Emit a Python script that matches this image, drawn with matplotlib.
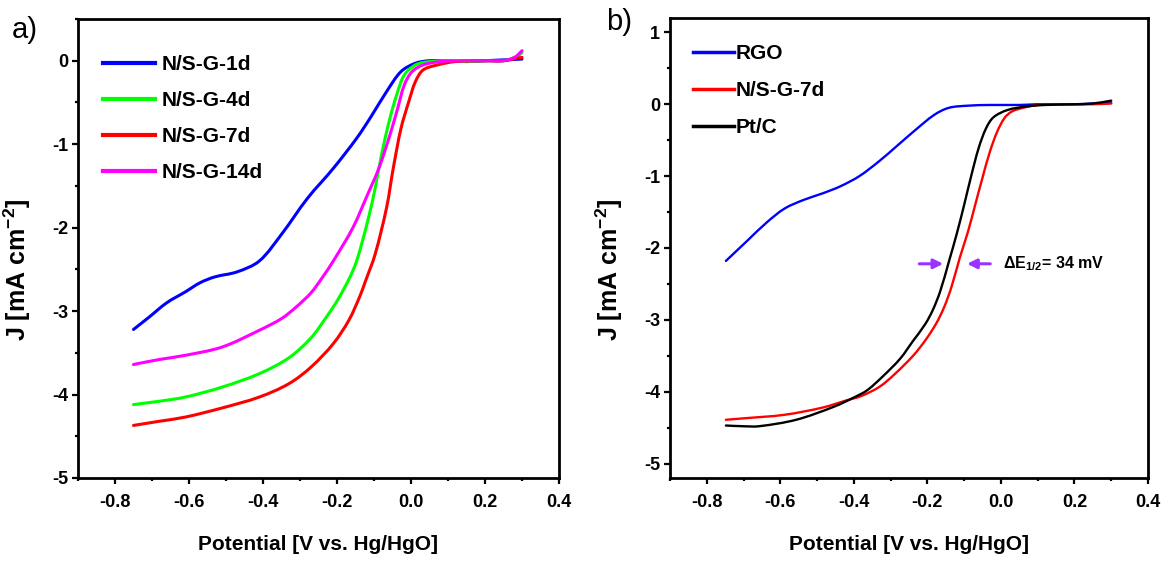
import matplotlib
matplotlib.use("Agg")
import numpy as np
import matplotlib.pyplot as plt
from matplotlib.ticker import MultipleLocator
from matplotlib.path import Path
from matplotlib.patches import PathPatch
from matplotlib.lines import Line2D

plt.rcParams['font.family'] = ['Liberation Sans', 'DejaVu Sans']
plt.rcParams['axes.unicode_minus'] = False
plt.rcParams['mathtext.fontset'] = 'custom'
plt.rcParams['mathtext.rm'] = 'Liberation Sans:bold'
plt.rcParams['mathtext.bf'] = 'Liberation Sans:bold'
plt.rcParams['mathtext.it'] = 'Liberation Sans:bold'

# ---- panel a: N/S-G samples with different treatment times ----
x_1d = [-0.75, -0.71, -0.66, -0.61, -0.57, -0.53, -0.47, -0.41, -0.35, -0.28,
        -0.21, -0.147, -0.108, -0.066, -0.027, 0.012, 0.05, 0.10, 0.15, 0.20,
        0.25, 0.30]
j_1d = [-3.22, -3.08, -2.90, -2.77, -2.66, -2.59, -2.53, -2.40, -2.08, -1.65,
        -1.29, -0.93, -0.67, -0.37, -0.13, -0.03, 0.0, 0.0, -0.01, 0.0,
        0.01, 0.02]

x_4d = [-0.75, -0.68, -0.61, -0.51, -0.41, -0.33, -0.27, -0.23, -0.20, -0.168,
        -0.147, -0.117, -0.097, -0.078, -0.057, -0.036, -0.018, 0.012, 0.05,
        0.10, 0.15, 0.20, 0.25, 0.29, 0.30]
j_4d = [-4.12, -4.08, -4.03, -3.91, -3.75, -3.56, -3.32, -3.08, -2.88, -2.62,
        -2.40, -1.92, -1.53, -1.09, -0.69, -0.37, -0.17, -0.05, -0.01,
        0.0, -0.01, 0.0, 0.0, 0.06, 0.10]

x_7d = [-0.75, -0.68, -0.61, -0.51, -0.41, -0.33, -0.27, -0.21, -0.168, -0.138,
        -0.123, -0.097, -0.066, -0.048, -0.027, -0.006, 0.012, 0.033, 0.072,
        0.12, 0.20, 0.25, 0.30]
j_7d = [-4.37, -4.32, -4.27, -4.16, -4.03, -3.87, -3.67, -3.39, -3.11, -2.82,
        -2.64, -2.32, -1.76, -1.29, -0.81, -0.49, -0.25, -0.11, -0.05,
        -0.01, 0.0, 0.0, 0.04]

x_14d = [-0.75, -0.68, -0.61, -0.51, -0.41, -0.35, -0.31, -0.27, -0.24, -0.21,
         -0.157, -0.117, -0.087, -0.057, -0.036, -0.018, 0.003, 0.033, 0.08,
         0.15, 0.20, 0.25, 0.28, 0.30]
j_14d = [-3.64, -3.58, -3.53, -3.43, -3.23, -3.09, -2.95, -2.78, -2.60, -2.40,
         -2.00, -1.60, -1.29, -0.89, -0.57, -0.29, -0.13, -0.05, -0.01,
         0.0, 0.0, 0.0, 0.04, 0.12]

labels_a = ['N/S-G-1d', 'N/S-G-4d', 'N/S-G-7d', 'N/S-G-14d']
colors_a = ['#0000ff', '#00ff00', '#ff0000', '#ff00ff']

# ---- panel b: comparison with RGO and Pt/C ----
x_rgo = [-0.748, -0.688, -0.636, -0.588, -0.536, -0.485, -0.436, -0.385, -0.333,
         -0.285, -0.233, -0.182, -0.142, -0.09, -0.03, 0.05, 0.10, 0.15, 0.20,
         0.25, 0.30]
j_rgo = [-2.18, -1.89, -1.64, -1.45, -1.33, -1.24, -1.14, -1.00, -0.80,
         -0.59, -0.36, -0.15, -0.05, -0.02, -0.01, -0.01, 0.0, 0.0, 0.0,
         0.01, 0.02]

x_nsg7 = [-0.748, -0.70, -0.588, -0.485, -0.42, -0.38, -0.33, -0.29, -0.239,
          -0.205, -0.176, -0.155, -0.135, -0.111, -0.09, -0.07, -0.05, -0.03,
          -0.01, 0.01, 0.03, 0.06, 0.10, 0.15, 0.20, 0.25, 0.30]
j_nsg7 = [-4.39, -4.37, -4.32, -4.22, -4.12, -4.06, -3.93, -3.76, -3.50,
          -3.28, -3.05, -2.83, -2.55, -2.12, -1.78, -1.40, -1.02, -0.66,
          -0.38, -0.19, -0.10, -0.05, -0.01, 0.0, 0.0, 0.0, 0.01]

x_ptc = [-0.748, -0.70, -0.658, -0.557, -0.455, -0.40, -0.364, -0.32, -0.274,
         -0.24, -0.206, -0.185, -0.165, -0.141, -0.12, -0.10, -0.08, -0.06,
         -0.04, -0.02, 0.018, 0.07, 0.12, 0.20, 0.25, 0.30]
j_ptc = [-4.47, -4.48, -4.48, -4.39, -4.21, -4.08, -3.98, -3.78, -3.54,
         -3.30, -3.06, -2.86, -2.60, -2.18, -1.80, -1.40, -0.98, -0.60,
         -0.33, -0.18, -0.08, -0.03, -0.01, 0.0, 0.01, 0.05]

labels_b = ['RGO', 'N/S-G-7d', 'Pt/C']
colors_b = ['#0000ff', '#ff0000', '#000000']

delta_e_text = r'ΔE$_{1/2}$= 34 mV'
arrow_color = '#9933ff'

W, H = 1163, 565
fig = plt.figure(figsize=(W / 100, H / 100), dpi=100)
ax_a = fig.add_axes([78 / W, 1 - 478 / H, 481 / W, 459 / H])
ax_b = fig.add_axes([670 / W, 1 - 478 / H, 478 / W, 460 / H])


def smooth_curve(ax, xs, ys, color, lw):
    """Draw a smooth line through the points (cubic Bezier, Catmull-Rom tangents)."""
    x0, x1 = ax.get_xlim()
    y0, y1 = ax.get_ylim()
    p = np.column_stack([xs, ys]).astype(float)
    q = np.column_stack([(p[:, 0] - x0) / (x1 - x0), (p[:, 1] - y0) / (y1 - y0)])
    t = np.concatenate([[0], np.cumsum(np.hypot(*np.diff(q, axis=0).T))])
    n = len(p)
    m = np.zeros_like(p)
    for i in range(n):
        a, b = max(i - 1, 0), min(i + 1, n - 1)
        m[i] = (p[b] - p[a]) / (t[b] - t[a])
    verts = [p[0]]
    codes = [Path.MOVETO]
    for i in range(n - 1):
        h = t[i + 1] - t[i]
        verts += [p[i] + m[i] * h / 3, p[i + 1] - m[i + 1] * h / 3, p[i + 1]]
        codes += [Path.CURVE4] * 3
    ax.add_patch(PathPatch(Path(verts, codes), fill=False, edgecolor=color,
                           lw=lw, capstyle='round', joinstyle='round'))


def style_axes(ax, ylim, ymajor, yminor):
    ax.set_xlim(-0.9, 0.4)
    ax.set_ylim(*ylim)
    ax.xaxis.set_major_locator(MultipleLocator(0.2))
    ax.xaxis.set_minor_locator(MultipleLocator(0.1))
    ax.yaxis.set_major_locator(MultipleLocator(ymajor))
    ax.yaxis.set_minor_locator(MultipleLocator(yminor))
    ax.xaxis.set_major_formatter(plt.FuncFormatter(lambda v, p: f'{v:.1f}'))
    ax.yaxis.set_major_formatter(plt.FuncFormatter(lambda v, p: f'{v:.0f}'))
    for s in ax.spines.values():
        s.set_linewidth(2.0)
    ax.tick_params(which='both', direction='out', top=False, right=False,
                   width=1.6)
    ax.tick_params(which='major', length=4.5, labelsize=13)
    ax.tick_params(which='minor', length=2.5)
    ax.tick_params(axis='x', which='major', pad=7)
    ax.tick_params(axis='y', which='major', pad=2.5)
    for lab in ax.get_xticklabels() + ax.get_yticklabels():
        lab.set_fontweight('bold')
    ax.set_xlabel('Potential [V vs. Hg/HgO]', fontsize=15, fontweight='bold')
    ax.set_ylabel(r'J [mA cm$^{-2}$]', fontsize=18, fontweight='bold')
    ax.xaxis.set_label_coords(0.5, -0.125)


# panel a
style_axes(ax_a, (-5, 0.5), 1, 0.5)
for xs, ys, col in zip([x_1d, x_4d, x_7d, x_14d],
                       [j_1d, j_4d, j_7d, j_14d], colors_a):
    smooth_curve(ax_a, xs, ys, col, 2.2)
ax_a.yaxis.set_label_coords(-0.094, 0.453)
handles_a = [Line2D([], [], color=c, lw=3) for c in colors_a]
ax_a.legend(handles_a, labels_a, loc='upper left',
            bbox_to_anchor=(0.053, 0.921), frameon=False, borderpad=0,
            borderaxespad=0, handlelength=2.45, handletextpad=0.35,
            labelspacing=0.81, prop={'weight': 'bold', 'size': 15})

# panel b
style_axes(ax_b, (-5.2, 1.2), 1, 0.5)
for xs, ys, col in zip([x_rgo, x_nsg7, x_ptc], [j_rgo, j_nsg7, j_ptc],
                       colors_b):
    smooth_curve(ax_b, xs, ys, col, 1.7)
ax_b.yaxis.set_label_coords(-0.094, 0.453)
handles_b = [Line2D([], [], color=c, lw=2.5) for c in colors_b]
ax_b.legend(handles_b, labels_b, loc='upper left',
            bbox_to_anchor=(0.048, 0.943), frameon=False, borderpad=0,
            borderaxespad=0, handlelength=1.95, handletextpad=0.12,
            labelspacing=0.86, prop={'weight': 'bold', 'size': 15})

# half-wave potential gap marker
y_arrow = -2.22
arrow_kw = dict(arrowstyle='-|>', color=arrow_color, lw=2.2,
                mutation_scale=14, shrinkA=0, shrinkB=0)
ax_b.annotate('', xy=(-0.157, y_arrow), xytext=(-0.222, y_arrow),
              arrowprops=arrow_kw)
ax_b.annotate('', xy=(-0.092, y_arrow), xytext=(-0.029, y_arrow),
              arrowprops=arrow_kw)
ax_b.text(0.006, y_arrow, delta_e_text, fontsize=11.5, fontweight='bold',
          va='center', ha='left')

fig.text(12 / W, 1 - 30 / H, 'a)', fontsize=21, va='center', ha='left')
fig.text(606 / W, 1 - 22 / H, 'b)', fontsize=21, va='center', ha='left')

fig.savefig('out.png', dpi=100)
